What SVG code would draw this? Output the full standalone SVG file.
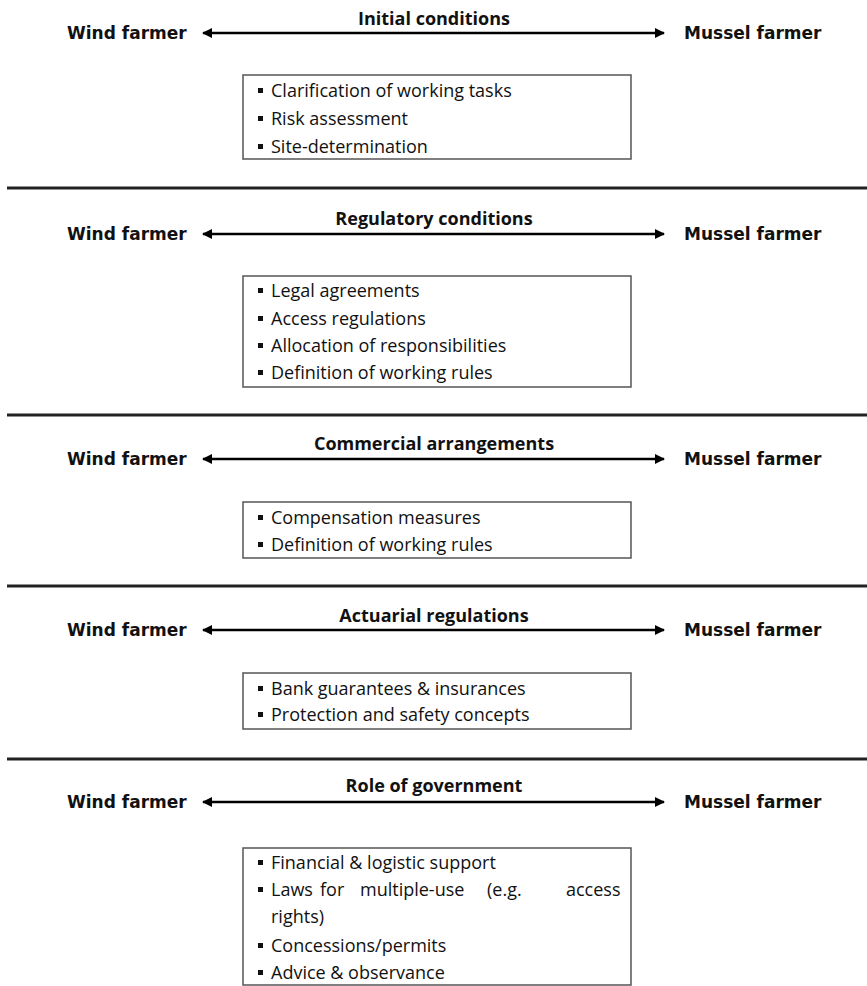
<svg xmlns="http://www.w3.org/2000/svg" width="867" height="986" viewBox="0 0 867 986">
<style>
.title{font-family:"Open Sans","Liberation Sans",sans-serif;font-weight:bold;font-size:18px;fill:#111;text-anchor:middle}
.actor{font-family:"DejaVu Sans","Liberation Sans",sans-serif;font-weight:bold;font-size:17px;fill:#111}
.item{font-family:"Open Sans","Liberation Sans",sans-serif;font-size:18px;fill:#111}
.box{fill:#fff;stroke:#555;stroke-width:1.5}
.sep{stroke:#222;stroke-width:3}
.arr{stroke:#000;stroke-width:2.5;marker-start:url(#ah);marker-end:url(#ah)}
.bul{fill:#111}
</style>
<defs>
<marker id="ah" viewBox="0 0 10 10" refX="9" refY="5" markerWidth="4.4" markerHeight="4" orient="auto-start-reverse" markerUnits="strokeWidth">
<path d="M0,0 L10,5 L0,10 z" fill="#000"/>
</marker>
</defs>
<rect width="867" height="986" fill="#fff"/>

<g id="separators">
<line class="sep" x1="7" y1="188" x2="867" y2="188"/>
<line class="sep" x1="7" y1="415" x2="867" y2="415"/>
<line class="sep" x1="7" y1="586" x2="867" y2="586"/>
<line class="sep" x1="7" y1="759" x2="867" y2="759"/>
</g>

<g id="connectors">
<line class="arr" x1="203" y1="33" x2="664" y2="33"/>
<line class="arr" x1="203" y1="234" x2="664" y2="234"/>
<line class="arr" x1="203" y1="459" x2="664" y2="459"/>
<line class="arr" x1="203" y1="630" x2="664" y2="630"/>
<line class="arr" x1="203" y1="802" x2="664" y2="802"/>
</g>

<g id="section1">
<text class="title" x="434" y="24.5">Initial conditions</text>
<text class="actor" x="67" y="39">Wind farmer</text>
<text class="actor" x="684" y="39">Mussel farmer</text>
<g id="box1">
<rect class="box" x="243" y="75" width="388" height="84"/>
<rect class="bul" x="258" y="88" width="5" height="5"/><text class="item" x="271" y="97">Clarification  of working tasks</text>
<rect class="bul" x="258" y="116" width="5" height="5"/><text class="item" x="271" y="125">Risk assessment</text>
<rect class="bul" x="258" y="144" width="5" height="5"/><text class="item" x="271" y="153">Site-determination</text>
</g>
</g>

<g id="section2">
<text class="title" x="434" y="224.5">Regulatory conditions</text>
<text class="actor" x="67" y="240">Wind farmer</text>
<text class="actor" x="684" y="240">Mussel farmer</text>
<g id="box2">
<rect class="box" x="243" y="276" width="388" height="111"/>
<rect class="bul" x="258" y="288" width="5" height="5"/><text class="item" x="271" y="297">Legal agreements</text>
<rect class="bul" x="258" y="316" width="5" height="5"/><text class="item" x="271" y="325">Access regulations</text>
<rect class="bul" x="258" y="343" width="5" height="5"/><text class="item" x="271" y="352">Allocation  of responsibilities</text>
<rect class="bul" x="258" y="370" width="5" height="5"/><text class="item" x="271" y="379">Definition  of working rules</text>
</g>
</g>

<g id="section3">
<text class="title" x="434" y="449.5">Commercial arrangements</text>
<text class="actor" x="67" y="465">Wind farmer</text>
<text class="actor" x="684" y="465">Mussel farmer</text>
<g id="box3">
<rect class="box" x="243" y="502" width="388" height="56"/>
<rect class="bul" x="258" y="515" width="5" height="5"/><text class="item" x="271" y="524">Compensation  measures</text>
<rect class="bul" x="258" y="542" width="5" height="5"/><text class="item" x="271" y="551">Definition  of working rules</text>
</g>
</g>

<g id="section4">
<text class="title" x="434" y="621.5">Actuarial regulations</text>
<text class="actor" x="67" y="636">Wind farmer</text>
<text class="actor" x="684" y="636">Mussel farmer</text>
<g id="box4">
<rect class="box" x="243" y="673" width="388" height="56"/>
<rect class="bul" x="258" y="686" width="5" height="5"/><text class="item" x="271" y="695">Bank guarantees &amp; insurances</text>
<rect class="bul" x="258" y="712" width="5" height="5"/><text class="item" x="271" y="721">Protection  and safety concepts</text>
</g>
</g>

<g id="section5">
<text class="title" x="434" y="791.5">Role of government</text>
<text class="actor" x="67" y="808">Wind farmer</text>
<text class="actor" x="684" y="808">Mussel farmer</text>
<g id="box5">
<rect class="box" x="243" y="848" width="388" height="137"/>
<rect class="bul" x="258" y="860" width="5" height="5"/><text class="item" x="271" y="869">Financial &amp; logistic  support</text>
<rect class="bul" x="258" y="887" width="5" height="5"/><text class="item" y="896"><tspan x="271">Laws</tspan><tspan x="320">for</tspan><tspan x="360">multiple-use</tspan><tspan x="487">(e.g.</tspan><tspan x="566">access</tspan></text>
<text class="item" x="271" y="923">rights)</text>
<rect class="bul" x="258" y="943" width="5" height="5"/><text class="item" x="271" y="952">Concessions/permits</text>
<rect class="bul" x="258" y="970" width="5" height="5"/><text class="item" x="271" y="979">Advice &amp; observance</text>
</g>
</g>
</svg>
